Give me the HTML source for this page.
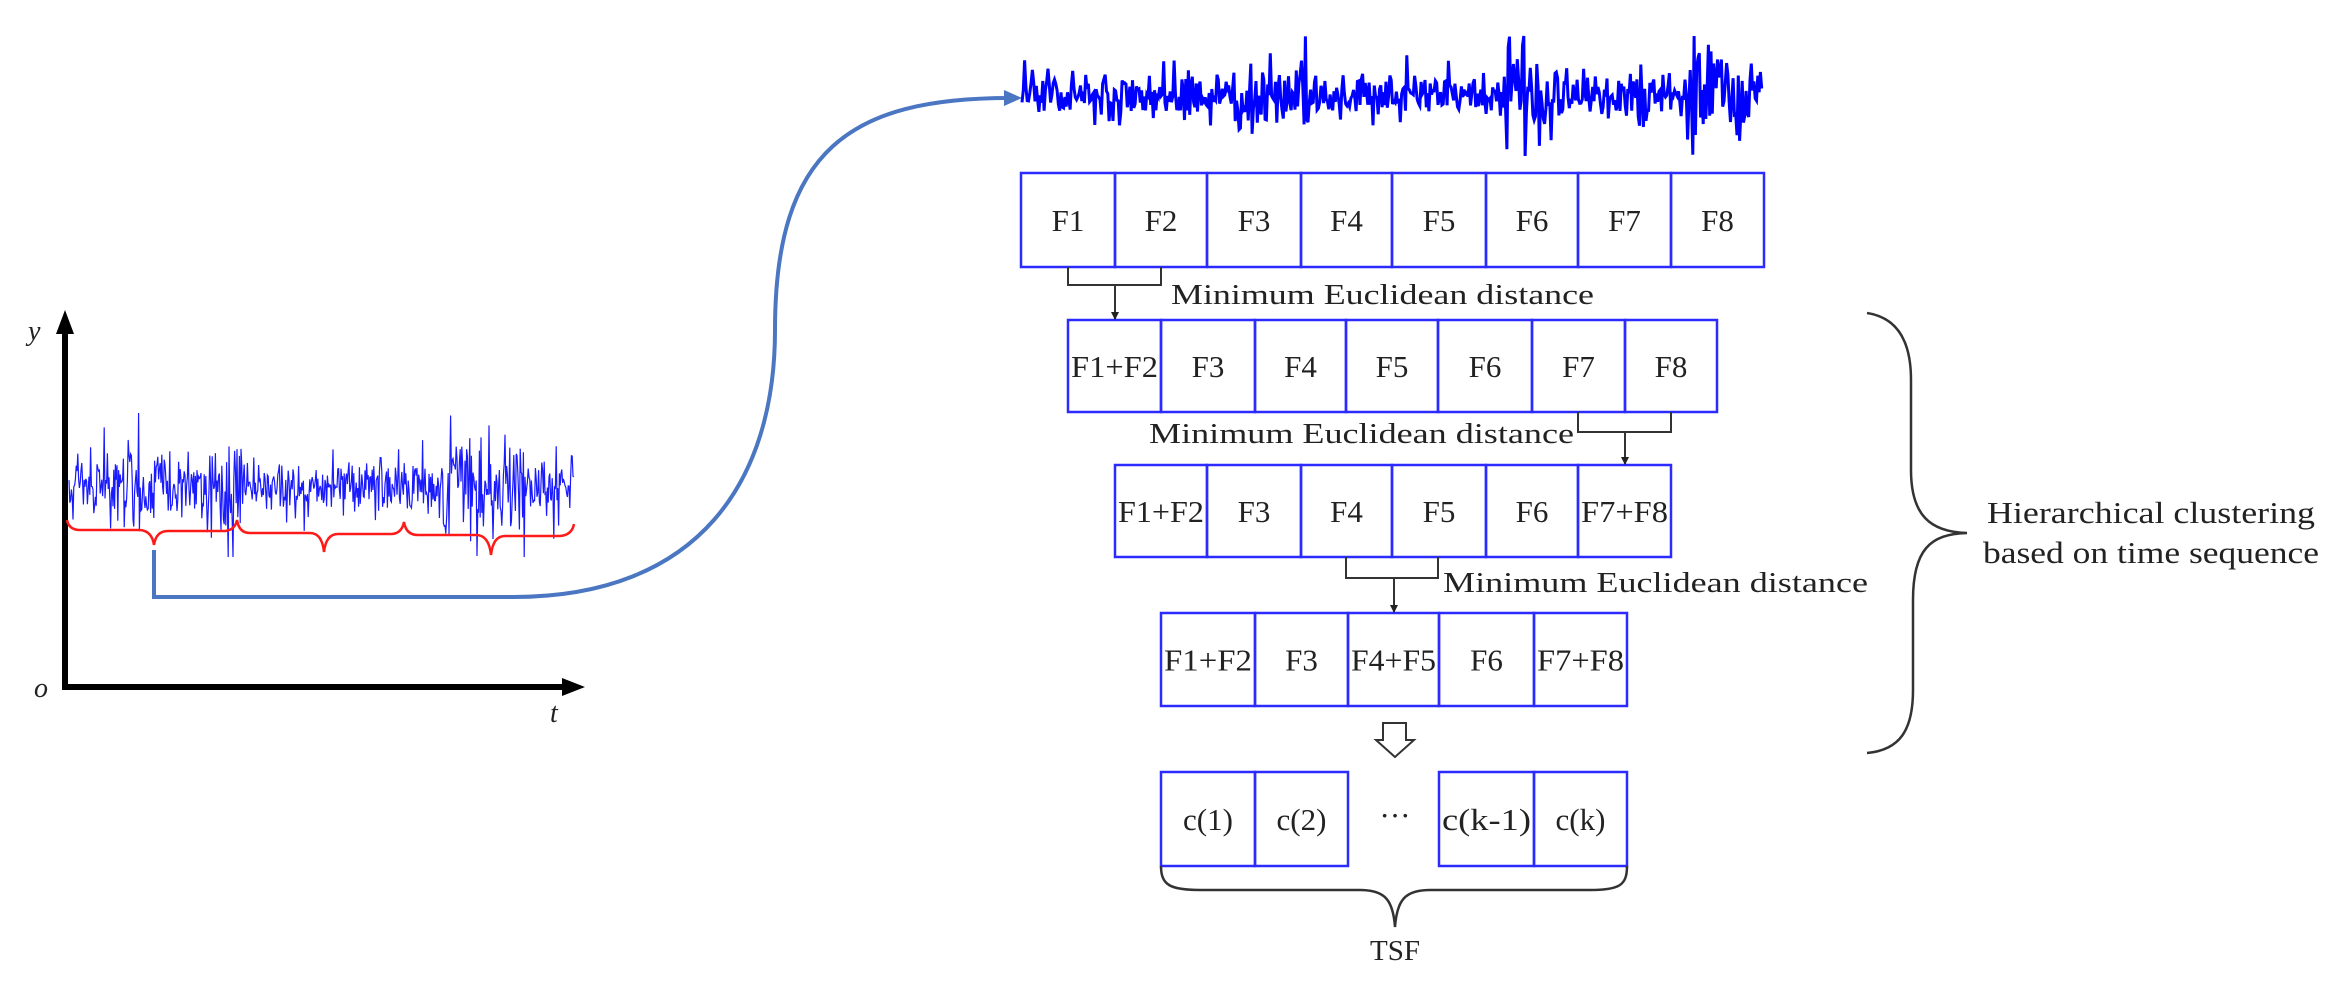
<!DOCTYPE html>
<html><head><meta charset="utf-8"><style>
html,body{margin:0;padding:0;background:#fff;}
svg{display:block;}
text{font-family:"Liberation Serif",serif;fill:#222;}
</style></head><body>
<svg id="s" width="2346" height="993" viewBox="0 0 2346 993" xmlns="http://www.w3.org/2000/svg">
<defs>
<marker id="ah" markerWidth="8" markerHeight="8" refX="7" refY="4" orient="auto" markerUnits="userSpaceOnUse"><path d="M0,0 L8,4 L0,8 z" fill="#222"/></marker>
</defs>
<line x1="65" y1="690" x2="65" y2="330" stroke="#000" stroke-width="6"/>
<path d="M56,334 L65,310 L74,334 z" fill="#000"/>
<line x1="62" y1="687" x2="565" y2="687" stroke="#000" stroke-width="6"/>
<path d="M562,678 L585,687 L562,696 z" fill="#000"/>
<text x="28" y="340" font-size="28" font-style="italic">y</text>
<text x="34" y="697" font-size="28" font-style="italic">o</text>
<text x="550" y="722" font-size="28" font-style="italic">t</text>
<g id="sig1"></g>
<path d="M67,520 Q69,530 80,530 L140,530 Q152,531 154,545 Q156,531 168,531 L225,531 Q235,530 237,520 Q239,533 250,533 L310,533 Q322,533 324,552 Q326,534 338,534 L392,534 Q402,533 404,522 Q406,535 418,535 L476,535 Q489,535 491,555 Q493,536 505,536 L560,536 Q572,535 574,524" fill="none" stroke="#ff1a1a" stroke-width="2.5"/>
<path d="M154,550 V597 H513 C700,597 775,480 775,330 C775,150 850,98 1010,98" fill="none" stroke="#4a76c2" stroke-width="4"/>
<path d="M1004,90 L1022,98 L1004,106 z" fill="#4a76c2"/>
<g id="sig2"></g>
<g id="boxes" fill="none" stroke="#2b2bff" stroke-width="2.5"></g>
<g id="labels" font-size="31" text-anchor="middle"></g>
<g fill="none" stroke="#333" stroke-width="2">
<path d="M1068,267 V285 H1161 V267"/>
<line x1="1115" y1="285" x2="1115" y2="319" marker-end="url(#ah)"/>
<path d="M1578,412 V432 H1671 V412"/>
<line x1="1625" y1="432" x2="1625" y2="464" marker-end="url(#ah)"/>
<path d="M1346,557 V578 H1438 V557"/>
<line x1="1394" y1="578" x2="1394" y2="612" marker-end="url(#ah)"/>
<path d="M1383,723 H1406 V740 H1414 L1395,757 L1376,740 H1383 Z" stroke-width="2"/>
<path d="M1161,866 C1161,885 1170,890 1200,890 L1360,890 C1385,890 1393,900 1395,927 C1397,900 1405,890 1430,890 L1590,890 C1620,890 1627,885 1627,866" stroke-width="2.5"/>
<path d="M1867,313 C1900,318 1911,345 1911,380 L1911,470 C1911,515 1930,532 1967,533 C1930,534 1913,550 1913,600 L1913,690 C1913,730 1900,750 1867,753" stroke-width="2.5"/>
</g>
<g font-size="29">
<text x="1171" y="304" textLength="423" lengthAdjust="spacingAndGlyphs">Minimum Euclidean distance</text>
<text x="1149" y="443" textLength="425" lengthAdjust="spacingAndGlyphs">Minimum Euclidean distance</text>
<text x="1443" y="592" textLength="425" lengthAdjust="spacingAndGlyphs">Minimum Euclidean distance</text>
<text x="1395" y="960" text-anchor="middle">TSF</text>
</g>
<g font-size="31">
<text x="1987" y="523" textLength="328" lengthAdjust="spacingAndGlyphs">Hierarchical clustering</text>
<text x="1983" y="563" textLength="336" lengthAdjust="spacingAndGlyphs">based on time sequence</text>
</g>
</svg>
<script>
var NS="http://www.w3.org/2000/svg";
var seed=12345;function r(){seed=(seed*16807)%2147483647;return seed/2147483647;}
function g(){return (r()+r()+r()+r()-2)*1.2;}
function sig(id,x0,x1,cy,amp,step,w,col,spk){
 var pts=[];var env=1;
 for(var x=x0;x<=x1;x+=step){
   if(r()<0.03)env=0.7+r()*1.0;
   var v=g()*amp*env; if(r()<0.04)v*=spk;
   v=Math.max(-amp*3,Math.min(amp*3,v));
   pts.push(x.toFixed(1)+","+(cy+v).toFixed(1));
 }
 var p=document.createElementNS(NS,"polyline");
 p.setAttribute("points",pts.join(" "));p.setAttribute("fill","none");
 p.setAttribute("stroke",col);p.setAttribute("stroke-width",w);
 document.getElementById(id).appendChild(p);
}
sig("sig1",69,574,485,24,0.8,1.2,"#1a1aff",2.0);
sig("sig2",1022,1762,96,20,1.3,3,"#0000ff",1.6);
var rows=[
 {y:173,h:94,xs:[1021,1115,1207,1301,1392,1486,1578,1671,1764],l:["F1","F2","F3","F4","F5","F6","F7","F8"]},
 {y:320,h:92,xs:[1068,1161,1255,1346,1438,1532,1625,1717],l:["F1+F2","F3","F4","F5","F6","F7","F8"]},
 {y:465,h:92,xs:[1115,1207,1301,1392,1486,1578,1671],l:["F1+F2","F3","F4","F5","F6","F7+F8"]},
 {y:613,h:93,xs:[1161,1255,1348,1439,1534,1627],l:["F1+F2","F3","F4+F5","F6","F7+F8"]}
];
var B=document.getElementById("boxes"),L=document.getElementById("labels");
function box(x,y,w,h,t){var e=document.createElementNS(NS,"rect");e.setAttribute("x",x);e.setAttribute("y",y);e.setAttribute("width",w);e.setAttribute("height",h);B.appendChild(e);
 var tx=document.createElementNS(NS,"text");tx.setAttribute("x",x+w/2);tx.setAttribute("y",y+h/2+11);tx.textContent=t;
 if(t.length>4){tx.setAttribute("textLength",w-6);tx.setAttribute("lengthAdjust","spacingAndGlyphs");}
 L.appendChild(tx);}
rows.forEach(function(R){for(var i=0;i<R.l.length;i++)box(R.xs[i],R.y,R.xs[i+1]-R.xs[i],R.h,R.l[i]);});
box(1161,772,94,94,"c(1)");box(1255,772,93,94,"c(2)");box(1439,772,95,94,"c(k-1)");box(1534,772,93,94,"c(k)");
var d=document.createElementNS(NS,"text");d.setAttribute("x",1395);d.setAttribute("y",826);d.textContent="···";L.appendChild(d);
</script>
</body></html>
